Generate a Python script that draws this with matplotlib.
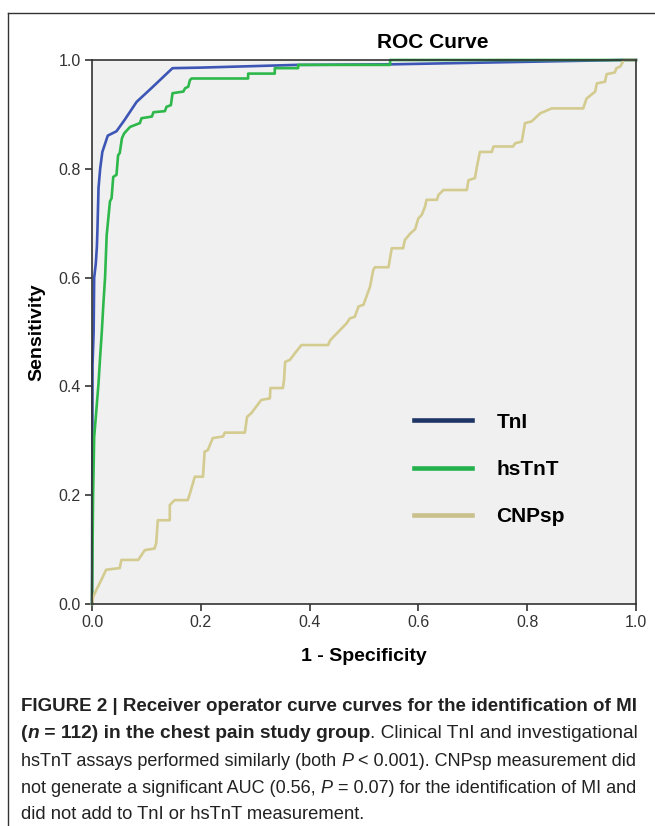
import matplotlib
matplotlib.use("Agg")
import matplotlib.pyplot as plt
from matplotlib.lines import Line2D

plt.rcParams["font.family"] = ["Liberation Sans", "DejaVu Sans"]

# ROC points: (1 - specificity, sensitivity)
tni_fpr = [0, 0.001, 0.003, 0.004, 0.007, 0.009, 0.010, 0.012, 0.015, 0.019, 0.029,
           0.045, 0.060, 0.082, 0.110, 0.148, 0.200, 0.376, 0.548, 0.977, 1.0]
tni_tpr = [0, 0.44, 0.50, 0.60, 0.626, 0.657, 0.688, 0.765, 0.80, 0.831, 0.861,
           0.869, 0.890, 0.923, 0.949, 0.985, 0.986, 0.991, 0.992, 1.0, 1.0]

hstnt_fpr = [0, 0.001, 0.002, 0.004, 0.007, 0.012, 0.015, 0.018, 0.021, 0.024, 0.027,
             0.033, 0.036, 0.039, 0.045, 0.048, 0.051, 0.055, 0.059, 0.070, 0.088,
             0.091, 0.110, 0.113, 0.134, 0.137, 0.145, 0.148, 0.168, 0.171, 0.177,
             0.180, 0.183, 0.287, 0.287, 0.336, 0.336, 0.379, 0.379, 0.548, 0.548, 1.0]
hstnt_tpr = [0, 0.10, 0.20, 0.307, 0.344, 0.406, 0.455, 0.50, 0.553, 0.60, 0.678,
             0.740, 0.746, 0.785, 0.789, 0.825, 0.829, 0.856, 0.865, 0.877, 0.884,
             0.893, 0.896, 0.904, 0.906, 0.914, 0.917, 0.939, 0.942, 0.948, 0.951,
             0.963, 0.966, 0.966, 0.975, 0.975, 0.985, 0.985, 0.991, 0.991, 1.0, 1.0]

cnpsp_fpr = [0, 0.002, 0.008, 0.017, 0.026, 0.051, 0.054, 0.085, 0.091, 0.097, 0.115,
             0.118, 0.121, 0.143, 0.143, 0.152, 0.176, 0.180, 0.189, 0.204, 0.207,
             0.213, 0.222, 0.241, 0.244, 0.281, 0.285, 0.293, 0.311, 0.327, 0.328,
             0.351, 0.353, 0.355, 0.364, 0.373, 0.385, 0.434, 0.438, 0.468, 0.474,
             0.483, 0.490, 0.499, 0.511, 0.517, 0.520, 0.545, 0.551, 0.572, 0.575,
             0.585, 0.594, 0.600, 0.606, 0.612, 0.615, 0.634, 0.637, 0.646, 0.689,
             0.692, 0.704, 0.707, 0.713, 0.735, 0.738, 0.774, 0.778, 0.790, 0.796,
             0.808, 0.824, 0.845, 0.903, 0.909, 0.925, 0.928, 0.943, 0.946, 0.961,
             0.964, 0.971, 0.976, 0.977, 1.0]
cnpsp_tpr = [0, 0.013, 0.026, 0.044, 0.063, 0.066, 0.081, 0.081, 0.090, 0.099, 0.102,
             0.112, 0.154, 0.154, 0.182, 0.191, 0.191, 0.203, 0.234, 0.234, 0.280,
             0.283, 0.305, 0.308, 0.315, 0.315, 0.344, 0.351, 0.375, 0.378, 0.397,
             0.397, 0.412, 0.445, 0.449, 0.461, 0.476, 0.476, 0.485, 0.516, 0.525,
             0.528, 0.547, 0.550, 0.583, 0.614, 0.619, 0.619, 0.654, 0.654, 0.669,
             0.681, 0.689, 0.709, 0.715, 0.730, 0.743, 0.743, 0.752, 0.761, 0.761,
             0.779, 0.783, 0.801, 0.831, 0.831, 0.841, 0.841, 0.847, 0.850, 0.884,
             0.887, 0.902, 0.911, 0.911, 0.929, 0.942, 0.957, 0.960, 0.974, 0.977,
             0.985, 0.988, 0.997, 1.0, 1.0]

series_names = ["TnI", "hsTnT", "CNPsp"]
tick_vals = [0.0, 0.2, 0.4, 0.6, 0.8, 1.0]
tick_labels = ["0.0", "0.2", "0.4", "0.6", "0.8", "1.0"]

# caption lines as (text, weight, style) pieces
caption = [
    [("FIGURE 2 | Receiver operator curve curves for the identification of MI", "bold", "normal")],
    [("(", "bold", "normal"), ("n", "bold", "italic"),
     (" = 112) in the chest pain study group", "bold", "normal"),
     (". Clinical TnI and investigational", "normal", "normal")],
    [("hsTnT assays performed similarly (both ", "normal", "normal"), ("P", "normal", "italic"),
     (" < 0.001). CNPsp measurement did", "normal", "normal")],
    [("not generate a significant AUC (0.56, ", "normal", "normal"), ("P", "normal", "italic"),
     (" = 0.07) for the identification of MI and", "normal", "normal")],
    [("did not add to TnI or hsTnT measurement.", "normal", "normal")],
]

W, H = 655, 826
fig = plt.figure(figsize=(W / 100, H / 100), dpi=100)
ax = fig.add_axes([92 / W, 1 - 604 / H, 544 / W, 544 / H])
ax.set_facecolor("#f0f0f0")

line_cols = ["#3d55b5", "#2eb84b", "#d3cb8f"]
legend_cols = ["#1e3565", "#22b14c", "#c9c08c"]

ax.plot(tni_fpr, tni_tpr, color=line_cols[0], lw=1.9, clip_on=False)
ax.plot(hstnt_fpr, hstnt_tpr, color=line_cols[1], lw=1.9, clip_on=False)
ax.plot(cnpsp_fpr, cnpsp_tpr, color=line_cols[2], lw=1.9, clip_on=False)

ax.set_xlim(0, 1)
ax.set_ylim(0, 1)
ax.set_xticks(tick_vals)
ax.set_xticklabels(tick_labels)
ax.set_yticks(tick_vals)
ax.set_yticklabels(tick_labels)
ax.tick_params(direction="out", length=5, width=1.1, color="#222222",
               labelsize=11.5, labelcolor="#333333", pad=3)
for s in ax.spines.values():
    s.set_color("#333333")
    s.set_linewidth(1.2)

ax.set_xlabel("1 - Specificity", fontsize=14, fontweight="bold")
ax.xaxis.label.set_va("center")
ax.xaxis.set_label_coords(0.5, -0.097)
ax.set_ylabel("Sensitivity", fontsize=14, fontweight="bold")
ax.yaxis.label.set_va("center")
ax.yaxis.set_label_coords(-0.102, 0.5)

fig.text(433 / W, 1 - 42 / H, "ROC Curve", ha="center", va="center",
         fontsize=15, fontweight="bold")

handles = [Line2D([], [], color=c, lw=3.3) for c in legend_cols]
ax.legend(handles, series_names, loc="upper left", bbox_to_anchor=(0.558, 0.386),
          frameon=False, handlelength=2.75, handletextpad=1.2, labelspacing=1.35,
          prop=dict(weight="bold", size=15))

# outer frame (open on the right and bottom, as cropped in the source)
fig.add_artist(Line2D([8 / W, 8 / W], [0, 1 - 13 / H], color="#333333", lw=1,
                      transform=fig.transFigure))
fig.add_artist(Line2D([8 / W, 1], [1 - 13 / H, 1 - 13 / H], color="#333333", lw=1,
                      transform=fig.transFigure))

# caption, drawn piece by piece so bold / italic parts line up
cap_font = ["Liberation Sans Narrow", "Liberation Sans"]
renderer = fig.canvas.get_renderer()


def text_width(s, size, weight, style):
    t = fig.text(0, 0, s + "|", fontsize=size, fontweight=weight, fontstyle=style,
                 family=cap_font)
    bar = fig.text(0, 0, "|", fontsize=size, fontweight=weight, fontstyle=style,
                   family=cap_font)
    w = t.get_window_extent(renderer).width - bar.get_window_extent(renderer).width
    t.remove()
    bar.remove()
    return w


# the source caption is justified: fit lines 1-4 to the column width
sizes = []
for pieces in caption[:-1]:
    total = sum(text_width(t, 10, w, st) for t, w, st in pieces)
    sizes.append(10 * 618 / total)
sizes.append(sum(sizes[1:]) / 3)

baselines = [711, 738, 766, 793, 819]
for pieces, yb, size in zip(caption, baselines, sizes):
    x = 21
    for txt, weight, style in pieces:
        fig.text(x / W, 1 - yb / H, txt, fontsize=size, fontweight=weight,
                 fontstyle=style, family=cap_font, va="baseline", color="#222222")
        x += text_width(txt, size, weight, style)

fig.savefig("out.png", dpi=100)
